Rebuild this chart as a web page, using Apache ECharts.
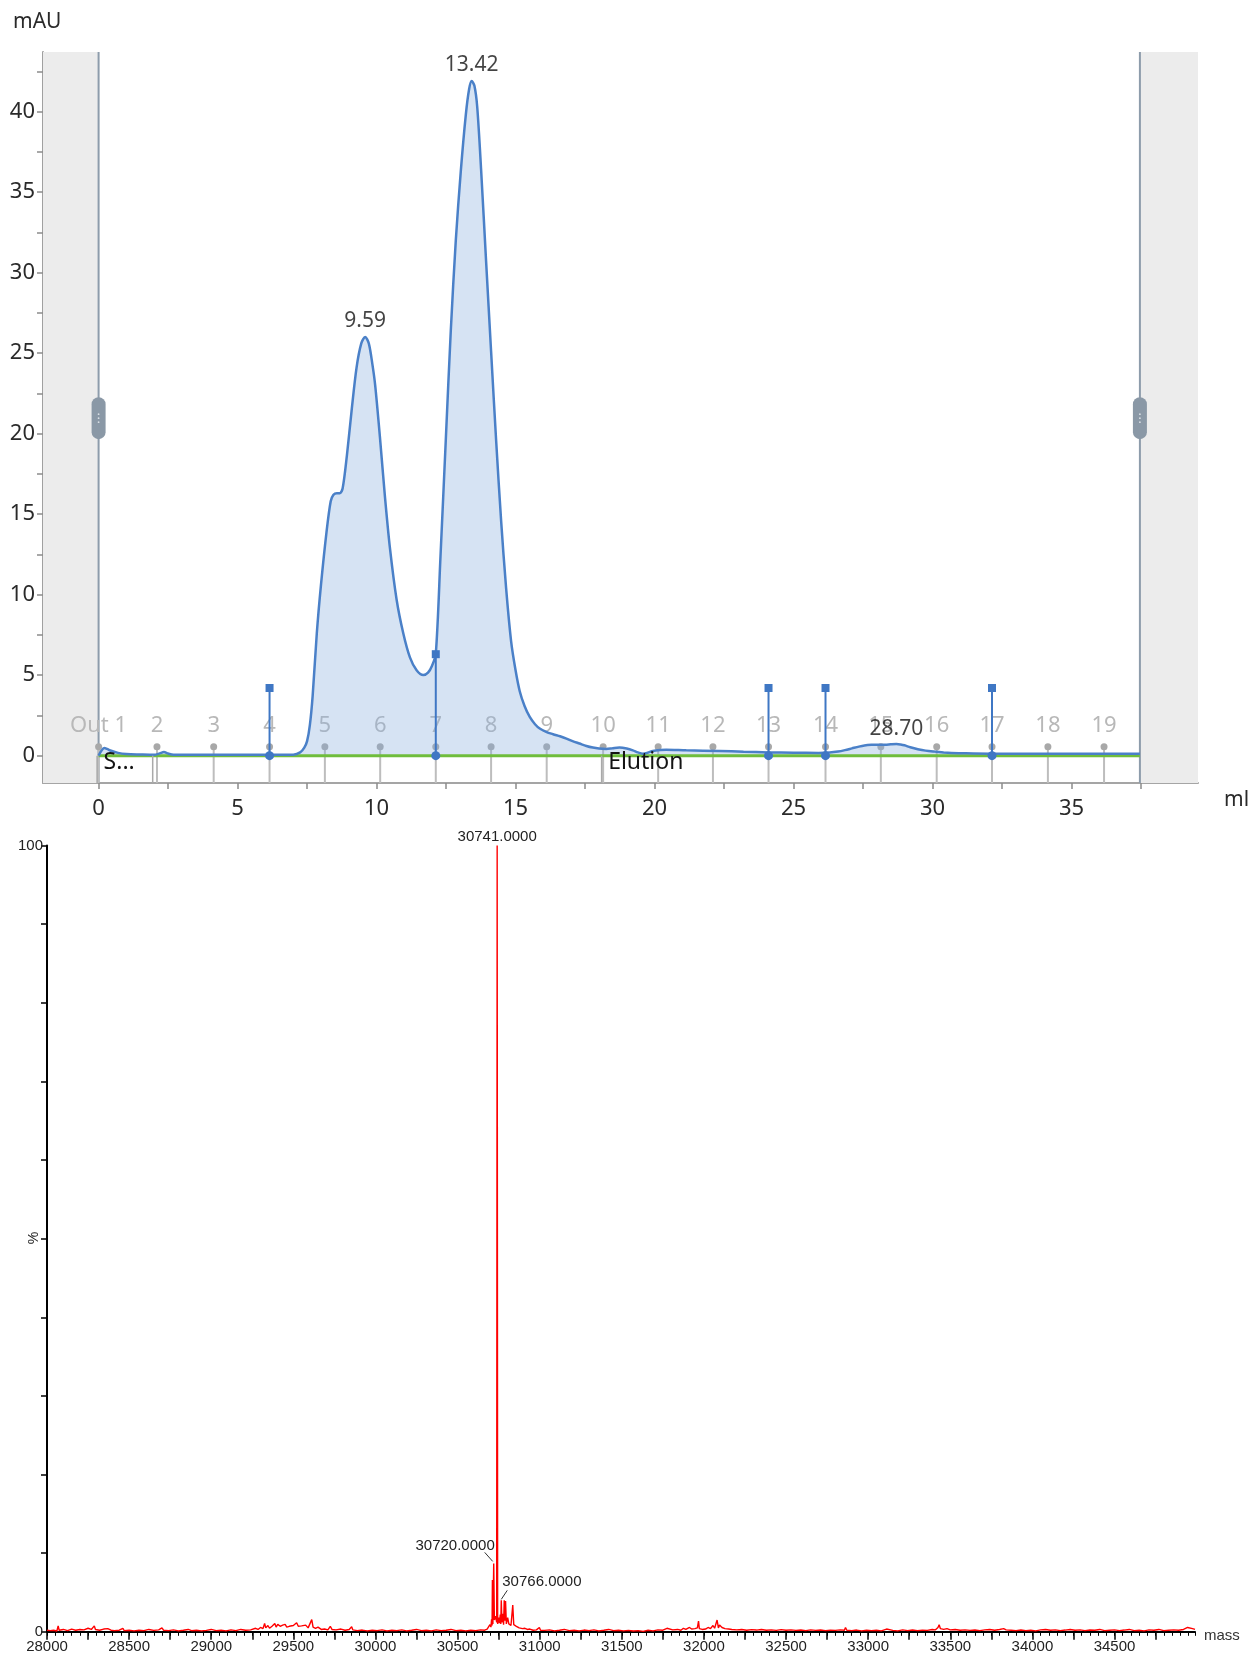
<!DOCTYPE html>
<html>
<head>
<meta charset="utf-8">
<script src="https://cdn.jsdelivr.net/npm/echarts@6/dist/echarts.min.js"></script>
<style>
  html, body { margin: 0; padding: 0; background: #ffffff; }
  #chart { width: 1254px; height: 1663px; }
</style>
</head>
<body>
<div id="chart"></div>
<script>
// ---------- UV chromatogram (mAU vs ml) ----------
const uvVolume = [
  0.0, 0.1, 0.2, 0.3, 0.45, 0.7, 1.0, 1.5, 2.0, 2.2, 2.35, 2.5, 2.7, 3.5, 5.0, 6.5, 7.0,
  7.25, 7.4, 7.5, 7.6, 7.7, 7.85, 8.0, 8.2, 8.35, 8.45, 8.57, 8.68, 8.78, 8.93, 9.1, 9.28,
  9.45, 9.59, 9.72, 9.85, 9.95, 10.12, 10.3, 10.48, 10.72, 10.96, 11.2, 11.44, 11.68,
  11.85, 12.0, 12.13, 12.3, 12.49, 12.67, 12.85, 13.03, 13.21, 13.33, 13.42, 13.52,
  13.62, 13.76, 13.94, 14.12, 14.3, 14.48, 14.66, 14.84, 15.0, 15.15, 15.32, 15.51,
  15.7, 15.87, 16.1, 16.35, 16.6, 16.83, 17.05, 17.3, 17.55, 17.78, 18.0, 18.26, 18.5,
  18.74, 19.0, 19.22, 19.4, 19.58, 19.75, 19.94, 20.2, 20.42, 21.14, 22.34, 23.2, 24.1,
  25.0, 25.9, 26.3, 26.6, 26.85, 27.1, 27.35, 27.55, 27.8, 28.03, 28.3, 28.5, 28.7, 28.85,
  28.99, 29.2, 29.47, 29.75, 30.07, 30.4, 30.67, 31.2, 32.1, 33.5, 35.0, 36.5, 37.46
];
const uvAbsorbance = [
  0.0, 0.3, 0.47, 0.42, 0.3, 0.17, 0.1, 0.07, 0.05, 0.14, 0.22, 0.13, 0.06, 0.05, 0.05, 0.05, 0.06,
  0.2, 0.5, 0.9, 1.9, 3.7, 7.6, 10.6, 13.9, 15.8, 16.2, 16.3, 16.3, 16.6, 18.6, 21.4, 24.1,
  25.6, 26.0, 25.6, 24.3, 23.0, 19.8, 16.1, 12.9, 9.7, 7.6, 6.1, 5.3, 5.0,
  5.15, 5.6, 6.3, 12.4, 19.6, 26.4, 32.0, 36.3, 39.8, 41.4, 41.9, 41.6,
  40.3, 36.4, 30.7, 25.1, 19.6, 14.6, 10.4, 7.1, 5.3, 4.0, 3.1, 2.4,
  1.95, 1.68, 1.48, 1.33, 1.2, 1.06, 0.9, 0.75, 0.6, 0.5, 0.44, 0.41, 0.46,
  0.5, 0.44, 0.33, 0.2, 0.12, 0.18, 0.29, 0.35, 0.37, 0.33, 0.29, 0.24, 0.2,
  0.18, 0.17, 0.19, 0.25, 0.34, 0.45, 0.56, 0.63, 0.67, 0.68, 0.67, 0.7, 0.72, 0.69,
  0.64, 0.52, 0.4, 0.31, 0.25, 0.2, 0.17, 0.14, 0.12, 0.12, 0.12, 0.12, 0.12
];
const peakVolumes = [9.59, 13.42, 28.70];
const peakHeights = [26.0, 41.9, 0.72];

const fractionVolumes = [0, 2.1, 4.14, 6.15, 8.14, 10.13, 12.13, 14.12, 16.12, 18.15,
  20.13, 22.1, 24.1, 26.15, 28.14, 30.15, 32.14, 34.15, 36.17];
const fractionNames = ['Out 1', '2', '3', '4', '5', '6', '7', '8', '9', '10',
  '11', '12', '13', '14', '15', '16', '17', '18', '19'];

const injectVolumes = [6.15, 12.13, 24.1, 26.15, 32.14];
const injectLevels = [4.2, 6.3, 4.2, 4.2, 4.2];

const eventVolumes = [0, 2.0, 18.15];
const eventNames = ['S...', '', 'Elution'];

const runWindow = [0, 37.46];          // ml, start and end of the run
const viewLimits = [-2, 39.55];        // ml shown on the axis
const uvRange = [-1.7, 43.7];          // mAU shown on the axis
const volTicks = [0, 2.5, 5, 7.5, 10, 12.5, 15, 17.5, 20, 22.5, 25, 27.5, 30, 32.5, 35, 37.5];
const volLabels = [0, 5, 10, 15, 20, 25, 30, 35];
const uvTicks = [0, 2.5, 5, 7.5, 10, 12.5, 15, 17.5, 20, 22.5, 25, 27.5, 30, 32.5, 35, 37.5, 40, 42.5];
const uvLabels = [0, 5, 10, 15, 20, 25, 30, 35, 40];

// ---------- Deconvoluted mass spectrum (% vs mass) ----------
const spectrum = [
  [28000,0.2],[28020,0.15],[28040,0.2],[28060,0.1],[28068,0.75],[28074,0.2],[28100,0.3],[28125,0.15],
  [28150,0.35],[28175,0.2],[28200,0.3],[28225,0.25],[28250,0.45],[28270,0.3],[28288,0.75],[28295,0.3],
  [28320,0.2],[28345,0.35],[28370,0.4],[28390,0.2],[28410,0.15],[28440,0.2],[28462,0.45],[28470,0.15],
  [28500,0.2],[28530,0.12],[28560,0.2],[28590,0.15],[28620,0.3],[28650,0.18],[28680,0.25],[28700,0.5],
  [28710,0.2],[28740,0.15],[28770,0.25],[28800,0.12],[28830,0.2],[28860,0.3],[28880,0.15],[28910,0.2],
  [28940,0.12],[28970,0.18],[29000,0.3],[29030,0.15],[29060,0.2],[29090,0.12],[29120,0.25],[29150,0.15],
  [29180,0.3],[29210,0.2],[29240,0.25],
  [29270,0.45],[29285,0.3],[29300,0.55],[29315,0.4],[29325,1.05],[29332,0.5],[29345,0.8],[29355,0.45],
  [29370,0.7],[29387,1.05],[29395,0.6],[29405,0.95],[29412,1.15],[29420,0.7],[29435,0.85],[29450,0.95],
  [29460,0.6],[29475,0.7],[29487,0.5],[29500,0.8],[29512,0.6],[29520,1.15],[29530,0.7],[29540,0.9],
  [29550,0.75],[29562,0.55],[29575,0.85],[29590,0.5],[29600,0.7],[29612,1.55],[29620,0.6],[29635,0.45],
  [29650,0.6],[29670,0.3],[29690,0.35],[29710,0.25],[29725,0.7],[29735,0.3],[29760,0.25],[29790,0.35],
  [29815,0.2],[29840,0.3],[29855,0.65],[29862,0.25],[29890,0.15],
  [29920,0.22],[29950,0.12],[29980,0.2],[30010,0.15],[30040,0.25],[30070,0.12],[30100,0.2],[30130,0.15],
  [30160,0.25],[30190,0.12],[30220,0.2],[30250,0.3],[30280,0.15],[30310,0.2],[30340,0.12],[30370,0.25],
  [30400,0.15],[30430,0.2],[30460,0.3],[30490,0.15],[30520,0.2],[30550,0.12],[30580,0.2],[30610,0.15],
  [30640,0.25],[30665,0.2],[30680,0.35],[30690,0.55],
  [30697,0.9],[30703,0.6],[30707,1.6],[30710,0.8],[30712,6.6],[30715,1.0],[30720,8.7],[30724,1.5],
  [30732,2.0],[30738,1.2],[30741,100],[30744,1.0],[30750,1.8],[30755,1.1],[30760,2.2],[30763,1.0],
  [30766,4.0],[30770,1.2],[30776,2.3],[30780,0.9],[30784,4.0],[30788,1.4],[30792,3.9],[30797,1.0],
  [30805,1.8],[30812,1.0],[30818,1.2],[30825,0.8],[30836,3.4],[30842,0.9],[30850,1.1],[30858,0.7],
  [30865,0.9],[30875,0.5],[30885,0.6],[30895,0.4],[30910,0.45],[30925,0.3],[30940,0.35],[30960,0.2],
  [30980,0.25],[30998,0.55],[31005,0.2],
  [31030,0.18],[31060,0.25],[31090,0.12],[31120,0.2],[31150,0.3],[31180,0.15],[31210,0.2],[31240,0.12],
  [31270,0.22],[31300,0.15],[31330,0.25],[31360,0.12],[31390,0.2],[31420,0.3],[31450,0.15],[31480,0.2],
  [31510,0.12],[31540,0.18],[31570,0.1],[31600,0.15],[31630,0.05],[31660,0.2],[31690,0.12],[31720,0.25],
  [31750,0.2],[31775,0.45],[31785,0.2],[31810,0.25],[31840,0.3],[31860,0.2],[31875,0.45],[31890,0.3],
  [31912,0.55],[31925,0.35],[31945,0.4],[31960,0.5],[31967,1.35],[31972,0.4],[31990,0.3],[32010,0.35],
  [32025,0.55],[32040,0.4],[32055,0.8],[32065,0.45],[32072,0.6],[32080,1.5],[32088,0.5],[32095,0.85],
  [32102,1.0],[32110,0.55],[32120,0.7],[32128,0.4],[32137,0.55],[32150,0.35],[32170,0.3],[32200,0.25],
  [32230,0.3],[32260,0.2],[32290,0.28],[32320,0.22],[32350,0.3],[32380,0.2],[32410,0.25],[32440,0.18],
  [32470,0.28],[32500,0.2],[32530,0.25],[32560,0.18],[32590,0.22],[32620,0.15],[32650,0.25],[32680,0.18],
  [32710,0.22],[32740,0.15],[32770,0.2],[32800,0.18],[32830,0.25],[32855,0.2],[32862,0.55],[32870,0.2],
  [32900,0.15],[32930,0.22],[32960,0.12],[32990,0.2],[33020,0.15],[33050,0.2],[33080,0.12],[33112,0.35],
  [33120,0.1],[33150,0.18],[33180,0.12],[33210,0.25],[33240,0.15],[33270,0.22],[33300,0.15],[33330,0.2],
  [33360,0.18],[33390,0.3],[33410,0.25],[33425,0.55],[33432,0.9],[33440,0.4],[33450,0.6],[33460,0.3],
  [33480,0.4],[33500,0.25],[33530,0.3],[33560,0.2],[33590,0.25],[33620,0.18],[33650,0.22],[33680,0.15],
  [33710,0.25],[33740,0.3],[33770,0.2],[33800,0.3],[33825,0.4],[33840,0.25],[33870,0.2],[33900,0.15],
  [33930,0.22],[33960,0.15],[33990,0.2],[34020,0.12],[34050,0.25],[34080,0.3],[34110,0.2],[34140,0.25],
  [34170,0.15],[34200,0.22],[34230,0.3],[34260,0.2],[34290,0.25],[34320,0.15],[34350,0.22],[34380,0.2],
  [34410,0.3],[34440,0.15],[34470,0.2],[34500,0.25],[34530,0.15],[34560,0.22],[34590,0.3],[34620,0.15],
  [34650,0.2],[34680,0.12],[34710,0.25],[34740,0.2],[34770,0.3],[34800,0.15],[34830,0.2],[34860,0.25],
  [34890,0.2],[34920,0.3],[34945,0.55],[34955,0.3],[34975,0.4],[34990,0.3]
];
const labelledMasses = [30741, 30720, 30766];
const labelledPercents = [100, 8.7, 4.0];
const massRange = [28000, 34990];
const massLabels = [28000, 28500, 29000, 29500, 30000, 30500, 31000, 31500, 32000, 32500, 33000, 33500, 34000, 34500];
const massMidTicks = [28000, 28250, 28500, 28750, 29000, 29250, 29500, 29750, 30000, 30250, 30500, 30750,
  31000, 31250, 31500, 31750, 32000, 32250, 32500, 32750, 33000, 33250, 33500, 33750, 34000, 34250, 34500, 34750];
const pctLabels = [0, 100];

// ---------- styling ----------
const UV_FONT = 'Noto Sans';
const MS_FONT = 'Liberation Sans';
const BLUE = '#3f77c4';

const chart = echarts.init(document.getElementById('chart'), null, { renderer: 'canvas' });

const uvCurve = uvVolume.map((v, i) => [v, uvAbsorbance[i]]);
const plain = v => String(v);

const option = {
  animation: false,
  backgroundColor: '#ffffff',
  grid: [
    { left: 43, right: 56, top: 52, bottom: 880 },
    { left: 47, right: 59, top: 845.6, bottom: 31.2 }
  ],
  xAxis: [
    {
      type: 'value', gridIndex: 0, min: viewLimits[0], max: viewLimits[1],
      axisLine: { show: true, onZero: false, lineStyle: { color: '#a5a5a5', width: 2 } },
      axisTick: { show: true, length: 6, customValues: volTicks, lineStyle: { color: '#8c8c8c', width: 1.5 } },
      axisLabel: { customValues: volLabels, formatter: plain, margin: 15, color: '#2a2a2a', fontFamily: UV_FONT, fontSize: 22 },
      splitLine: { show: false }
    },
    {
      type: 'value', gridIndex: 1, min: massRange[0], max: massRange[1], position: 'bottom',
      axisLine: { show: true, onZero: false, lineStyle: { color: '#000', width: 2 } },
      axisTick: { show: true, length: 8, customValues: massMidTicks, lineStyle: { color: '#000', width: 1.5 } },
      axisLabel: { customValues: massLabels, formatter: plain, margin: 8, color: '#222', fontFamily: MS_FONT, fontSize: 15 },
      splitLine: { show: false }
    },
    {
      type: 'value', gridIndex: 1, min: massRange[0], max: massRange[1], position: 'bottom', interval: 50,
      axisLine: { show: false },
      axisTick: { show: true, length: 4, lineStyle: { color: '#000', width: 1 } },
      axisLabel: { show: false },
      splitLine: { show: false }
    }
  ],
  yAxis: [
    {
      type: 'value', gridIndex: 0, min: uvRange[0], max: uvRange[1],
      axisLine: { show: true, onZero: false, lineStyle: { color: '#a0a0a0', width: 2 } },
      axisTick: { show: true, length: 6, customValues: uvTicks, lineStyle: { color: '#8c8c8c', width: 1.5 } },
      axisLabel: { customValues: uvLabels, formatter: plain, margin: 8, color: '#2a2a2a', fontFamily: UV_FONT, fontSize: 22 },
      splitLine: { show: false }
    },
    {
      type: 'value', gridIndex: 1, min: 0, max: 100, interval: 10,
      axisLine: { show: true, lineStyle: { color: '#000', width: 2 } },
      axisTick: { show: true, length: 6, lineStyle: { color: '#000', width: 1.5 } },
      axisLabel: { customValues: pctLabels, formatter: plain, margin: 4, color: '#222', fontFamily: MS_FONT, fontSize: 15 },
      splitLine: { show: false }
    }
  ],
  series: [
    // grey margins outside the run window, run-window borders and their handles
    {
      type: 'custom', xAxisIndex: 0, yAxisIndex: 0, z: 1, silent: true,
      data: [[viewLimits[0], runWindow[0], runWindow[0]], [runWindow[1], viewLimits[1], runWindow[1]]],
      renderItem(params, api) {
        const a = api.coord([api.value(0), uvRange[1]]);
        const b = api.coord([api.value(1), uvRange[0]]);
        const edge = api.value(2);
        const et = api.coord([edge, uvRange[1]]);
        const eb = api.coord([edge, uvRange[0]]);
        const hc = api.coord([edge, 20.96]);
        return {
          type: 'group',
          children: [
            { type: 'rect', shape: { x: a[0], y: a[1], width: b[0] - a[0], height: b[1] - a[1] },
              style: { fill: '#ececec' } },
            { type: 'line', shape: { x1: et[0], y1: et[1], x2: eb[0], y2: eb[1] },
              style: { stroke: '#8d9cab', lineWidth: 2 } },
            { type: 'rect', shape: { x: hc[0] - 7, y: hc[1] - 21, width: 14, height: 42, r: 7 },
              style: { fill: '#8a98a6' } },
            { type: 'circle', shape: { cx: hc[0], cy: hc[1] - 4, r: 0.9 }, style: { fill: '#d8dee4' } },
            { type: 'circle', shape: { cx: hc[0], cy: hc[1], r: 0.9 }, style: { fill: '#d8dee4' } },
            { type: 'circle', shape: { cx: hc[0], cy: hc[1] + 4, r: 0.9 }, style: { fill: '#d8dee4' } }
          ]
        };
      }
    },
    // fraction marks with their numbers
    {
      type: 'custom', xAxisIndex: 0, yAxisIndex: 0, z: 2, silent: true,
      data: fractionVolumes.map((v, i) => [v, i]),
      renderItem(params, api) {
        const x = api.value(0);
        const top = api.coord([x, 0.55]);
        const bot = api.coord([x, uvRange[0]]);
        const lab = api.coord([x, 1.85]);
        return {
          type: 'group',
          children: [
            { type: 'line', shape: { x1: top[0], y1: top[1], x2: bot[0], y2: bot[1] },
              style: { stroke: '#bdbdbd', lineWidth: 2 } },
            { type: 'circle', shape: { cx: top[0], cy: top[1], r: 3.5 }, style: { fill: '#a8a8a8' } },
            { type: 'text', style: { text: fractionNames[api.value(1)], x: lab[0], y: lab[1],
              align: 'center', verticalAlign: 'middle', fill: '#b8b8b8',
              font: '22px "' + UV_FONT + '"' } }
          ]
        };
      }
    },
    // method events along the baseline
    {
      type: 'custom', xAxisIndex: 0, yAxisIndex: 0, z: 6, silent: true,
      data: eventVolumes.map((v, i) => [v, i]),
      renderItem(params, api) {
        const x = api.value(0);
        const top = api.coord([x, 0]);
        const bot = api.coord([x, uvRange[0]]);
        const txt = api.coord([x, -0.45]);
        return {
          type: 'group',
          children: [
            { type: 'line', shape: { x1: top[0] - 1.5, y1: top[1], x2: bot[0] - 1.5, y2: bot[1] },
              style: { stroke: '#a9a9a9', lineWidth: 1.5 } },
            { type: 'text', style: { text: eventNames[api.value(1)], x: txt[0] + 5, y: txt[1],
              align: 'left', verticalAlign: 'middle', fill: '#141414',
              font: '23px "' + UV_FONT + '"' } }
          ]
        };
      }
    },
    // UV trace: filled area
    {
      type: 'line', xAxisIndex: 0, yAxisIndex: 0, z: 3, silent: true,
      data: uvCurve, smooth: 0.3, showSymbol: false,
      lineStyle: { width: 0 },
      areaStyle: { color: 'rgba(140,176,220,0.5)', origin: 0 }
    },
    // baseline
    {
      type: 'line', xAxisIndex: 0, yAxisIndex: 0, z: 4, silent: true,
      data: [[runWindow[0], 0], [runWindow[1], 0]], showSymbol: false,
      lineStyle: { color: '#6fbd3c', width: 3 }
    },
    // UV trace: line
    {
      type: 'line', xAxisIndex: 0, yAxisIndex: 0, z: 5, silent: true,
      data: uvCurve, smooth: 0.3, showSymbol: false,
      lineStyle: { color: '#4a80c8', width: 2.5 }
    },
    // injection / log marks
    {
      type: 'custom', xAxisIndex: 0, yAxisIndex: 0, z: 7, silent: true,
      data: injectVolumes.map((v, i) => [v, injectLevels[i]]),
      renderItem(params, api) {
        const top = api.coord([api.value(0), api.value(1)]);
        const bot = api.coord([api.value(0), 0]);
        return {
          type: 'group',
          children: [
            { type: 'line', shape: { x1: top[0], y1: top[1], x2: bot[0], y2: bot[1] },
              style: { stroke: BLUE, lineWidth: 2 } },
            { type: 'rect', shape: { x: top[0] - 4, y: top[1] - 4, width: 8, height: 8 },
              style: { fill: BLUE } },
            { type: 'circle', shape: { cx: bot[0], cy: bot[1], r: 4.5 }, style: { fill: BLUE } }
          ]
        };
      }
    },
    // peak retention labels
    {
      type: 'scatter', xAxisIndex: 0, yAxisIndex: 0, z: 8, silent: true,
      symbolSize: 0,
      data: peakVolumes.map((v, i) => [v, peakHeights[i]]),
      label: {
        show: true, position: 'top', distance: 5,
        formatter: p => p.value[0].toFixed(2),
        color: '#141414', fontFamily: UV_FONT, fontSize: 21
      }
    },
    // mass spectrum
    {
      type: 'line', xAxisIndex: 1, yAxisIndex: 1, z: 3, silent: true,
      data: spectrum, showSymbol: false, smooth: false,
      lineStyle: { color: '#ff0000', width: 1.4 }
    },
    // annotated masses
    {
      type: 'custom', xAxisIndex: 1, yAxisIndex: 1, z: 6, silent: true,
      data: labelledMasses.map((m, i) => [m, labelledPercents[i], i]),
      renderItem(params, api) {
        const p = api.coord([api.value(0), api.value(1)]);
        const txt = api.value(0).toFixed(4);
        const font = '15px "' + MS_FONT + '"';
        const k = api.value(2);
        if (k === 0) {
          return { type: 'text', style: { text: txt, x: p[0], y: p[1] - 9, align: 'center',
            verticalAlign: 'middle', fill: '#222', font } };
        }
        if (k === 1) {
          return { type: 'group', children: [
            { type: 'line', shape: { x1: p[0] - 1, y1: p[1] - 2, x2: p[0] - 9, y2: p[1] - 11 },
              style: { stroke: '#333', lineWidth: 1 } },
            { type: 'text', style: { text: txt, x: p[0] + 1, y: p[1] - 18, align: 'right',
              verticalAlign: 'middle', fill: '#222', font } }
          ] };
        }
        return { type: 'group', children: [
          { type: 'line', shape: { x1: p[0], y1: p[1] - 1, x2: p[0] + 6, y2: p[1] - 10 },
            style: { stroke: '#333', lineWidth: 1 } },
          { type: 'text', style: { text: txt, x: p[0] + 1, y: p[1] - 18, align: 'left',
            verticalAlign: 'middle', fill: '#222', font } }
        ] };
      }
    }
  ],
  graphic: [
    { type: 'text', x: 13, y: 22, silent: true,
      style: { text: 'mAU', fill: '#2a2a2a', font: '21px "' + UV_FONT + '"', verticalAlign: 'middle' } },
    { type: 'text', x: 1224, y: 800, silent: true,
      style: { text: 'ml', fill: '#2a2a2a', font: '21px "' + UV_FONT + '"', verticalAlign: 'middle' } },
    { type: 'text', x: 1204, y: 1636, silent: true,
      style: { text: 'mass', fill: '#333', font: '15px "' + MS_FONT + '"', verticalAlign: 'middle' } },
    { type: 'text', x: 34, y: 1238, rotation: Math.PI / 2, silent: true,
      style: { text: '%', fill: '#222', font: '14px "' + MS_FONT + '"', align: 'center', verticalAlign: 'middle' } }
  ]
};

chart.setOption(option);
</script>
</body>
</html>
